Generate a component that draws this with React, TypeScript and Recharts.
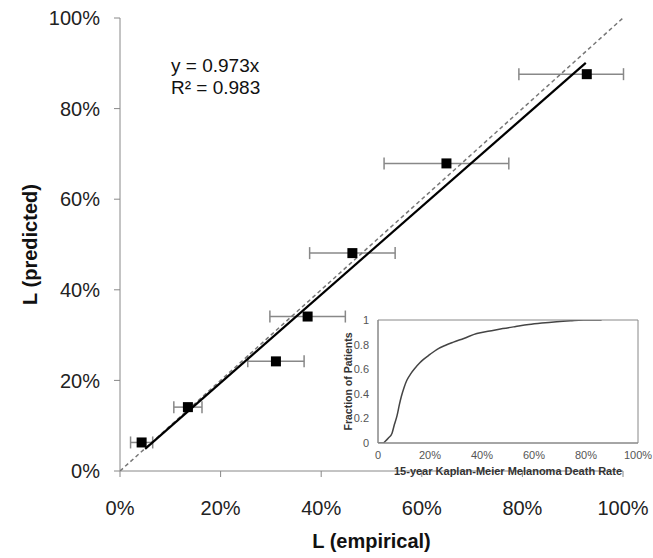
import React from "react";
import {
  ComposedChart,
  LineChart,
  Line,
  Scatter,
  XAxis,
  YAxis,
  ErrorBar,
} from "recharts";

// main panel: empirical vs predicted L (percent)
const empirical = [4.3, 13.5, 31.0, 37.3, 46.2, 64.9, 92.8];
const predicted = [6.3, 14.1, 24.2, 34.1, 48.1, 67.9, 87.6];
const errLow = [2.2, 2.8, 5.6, 7.5, 8.5, 12.4, 13.5];
const errHigh = [2.2, 2.8, 5.6, 7.5, 8.5, 12.4, 7.3];

// fitted line y = 0.973x and the y = x reference
const fitX = [5, 92.6];
const fitY = [4.9, 90.1];
const identityX = [0, 100];
const identityY = [0, 100];

const mainTicks = [0, 20, 40, 60, 80, 100];

// inset: cumulative fraction of patients vs 15-year death rate
const insetRate = [0, 2, 2.8, 4, 5.4, 6.3, 7.3, 8.2, 9, 10, 11.1, 12.5, 14.3, 16, 17.5, 20, 22.6, 26, 29, 33, 38, 43, 48, 53, 58, 63, 68.7, 74, 79, 86];
const insetFraction = [0, 0, 0.014, 0.04, 0.08, 0.15, 0.22, 0.31, 0.38, 0.45, 0.51, 0.56, 0.61, 0.65, 0.68, 0.72, 0.76, 0.795, 0.82, 0.85, 0.89, 0.91, 0.93, 0.947, 0.963, 0.975, 0.986, 0.994, 1, 1];
const insetXTicks = [0, 20, 40, 60, 80, 100];
const insetYTicks = [0, 0.2, 0.4, 0.6, 0.8, 1];

const FONT = "'Liberation Sans', Arial, Helvetica, sans-serif";
const AXIS = "#888";

const points = empirical.map((x, i) => ({
  x,
  y: predicted[i],
  xErr: [errLow[i], errHigh[i]],
}));
const fitData = fitX.map((x, i) => ({ x, y: fitY[i] }));
const identityData = identityX.map((x, i) => ({ x, y: identityY[i] }));
const insetData = insetRate.map((x, i) => ({ x, y: insetFraction[i] }));

const pct = (v: number) => `${v}%`;

function Square(props: any) {
  const { cx, cy } = props;
  if (cx == null || cy == null) return <g />;
  return <rect x={cx - 5} y={cy - 5} width={10} height={10} fill="#000" />;
}

const Nothing = () => <g />;

function MainChart() {
  return (
    <ComposedChart
      width={653}
      height={558}
      margin={{ top: 18, right: 30, bottom: 0, left: 20 }}
    >
      <XAxis
        type="number"
        dataKey="x"
        domain={[0, 100]}
        ticks={mainTicks}
        tickFormatter={pct}
        allowDataOverflow
        height={87}
        tickSize={6}
        tickMargin={24}
        stroke={AXIS}
        tick={{ fontSize: 20, fill: "#222" }}
        label={{
          value: "L (empirical)",
          position: "insideBottom",
          offset: 10,
          style: { fontSize: 20, fontWeight: "bold", fill: "#111" },
        }}
      />
      <YAxis
        type="number"
        dataKey="y"
        domain={[0, 100]}
        ticks={mainTicks}
        tickFormatter={pct}
        allowDataOverflow
        width={100}
        tickSize={6}
        tickMargin={14}
        stroke={AXIS}
        tick={{ fontSize: 20, fill: "#222" }}
        label={{
          value: "L (predicted)",
          angle: -90,
          position: "insideLeft",
          offset: 10,
          style: { fontSize: 20, fontWeight: "bold", fill: "#111", textAnchor: "middle" },
        }}
      />
      <Scatter
        data={identityData}
        line={{ stroke: "#777", strokeWidth: 1.5, strokeDasharray: "4 3" }}
        shape={Nothing}
        isAnimationActive={false}
      />
      <Scatter
        data={fitData}
        line={{ stroke: "#000", strokeWidth: 2.2 }}
        shape={Nothing}
        isAnimationActive={false}
      />
      <Scatter data={points} shape={Square} isAnimationActive={false}>
        <ErrorBar
          dataKey="xErr"
          direction="x"
          width={6}
          stroke="#888"
          strokeWidth={1.5}
          isAnimationActive={false}
        />
      </Scatter>
    </ComposedChart>
  );
}

function InsetChart() {
  const tickStyle = { fontSize: 11, fill: "#555" };
  return (
    <LineChart
      width={323}
      height={180}
      data={insetData}
      margin={{ top: 20, right: 15, bottom: 0, left: 0 }}
    >
      <XAxis
        type="number"
        dataKey="x"
        domain={[0, 100]}
        ticks={insetXTicks}
        tickFormatter={(v: number) => (v === 0 ? "0" : `${v}%`)}
        allowDataOverflow
        height={37}
        tickLine={false}
        tickMargin={2}
        stroke={AXIS}
        tick={tickStyle}
        label={{
          value: "15-year Kaplan-Meier Melanoma Death Rate",
          position: "insideBottom",
          offset: 5,
          style: { fontSize: 11, fontWeight: "bold", fill: "#333" },
        }}
      />
      <XAxis
        xAxisId="bottomIn"
        type="number"
        domain={[0, 100]}
        ticks={insetXTicks}
        orientation="bottom"
        mirror
        tick={false}
        tickSize={4}
        stroke={AXIS}
      />
      <XAxis
        xAxisId="topIn"
        type="number"
        domain={[0, 100]}
        ticks={insetXTicks}
        orientation="top"
        mirror
        tick={false}
        tickSize={4}
        stroke={AXIS}
      />
      <YAxis
        type="number"
        dataKey="y"
        domain={[0, 1]}
        ticks={insetYTicks}
        tickFormatter={(v: number) => (v === 0 || v === 1 ? `${v}` : v.toFixed(1))}
        allowDataOverflow
        width={48}
        tickLine={false}
        tickMargin={3}
        stroke={AXIS}
        tick={tickStyle}
        label={{
          value: "Fraction of Patients",
          angle: -90,
          position: "insideLeft",
          offset: 18,
          style: { fontSize: 10.5, fontWeight: "bold", fill: "#333", textAnchor: "middle" },
        }}
      />
      <YAxis
        yAxisId="leftIn"
        type="number"
        domain={[0, 1]}
        ticks={insetYTicks}
        orientation="left"
        mirror
        tick={false}
        tickSize={4}
        stroke={AXIS}
      />
      <YAxis
        yAxisId="rightIn"
        type="number"
        domain={[0, 1]}
        ticks={insetYTicks}
        orientation="right"
        mirror
        tick={false}
        tickSize={4}
        stroke={AXIS}
      />
      <Line
        type="monotone"
        dataKey="y"
        stroke="#444"
        strokeWidth={1.5}
        dot={false}
        isAnimationActive={false}
      />
    </LineChart>
  );
}

export default function App() {
  return (
    <div
      style={{
        position: "absolute",
        left: 0,
        top: 0,
        width: 653,
        height: 558,
        background: "#fff",
        fontFamily: FONT,
      }}
    >
      <MainChart />
      <div style={{ position: "absolute", left: 330, top: 300 }}>
        <InsetChart />
      </div>
      <div
        style={{
          position: "absolute",
          left: 171,
          top: 55,
          fontSize: 19,
          lineHeight: "22px",
          color: "#111",
        }}
      >
        <div>y = 0.973x</div>
        <div>R² = 0.983</div>
      </div>
    </div>
  );
}
